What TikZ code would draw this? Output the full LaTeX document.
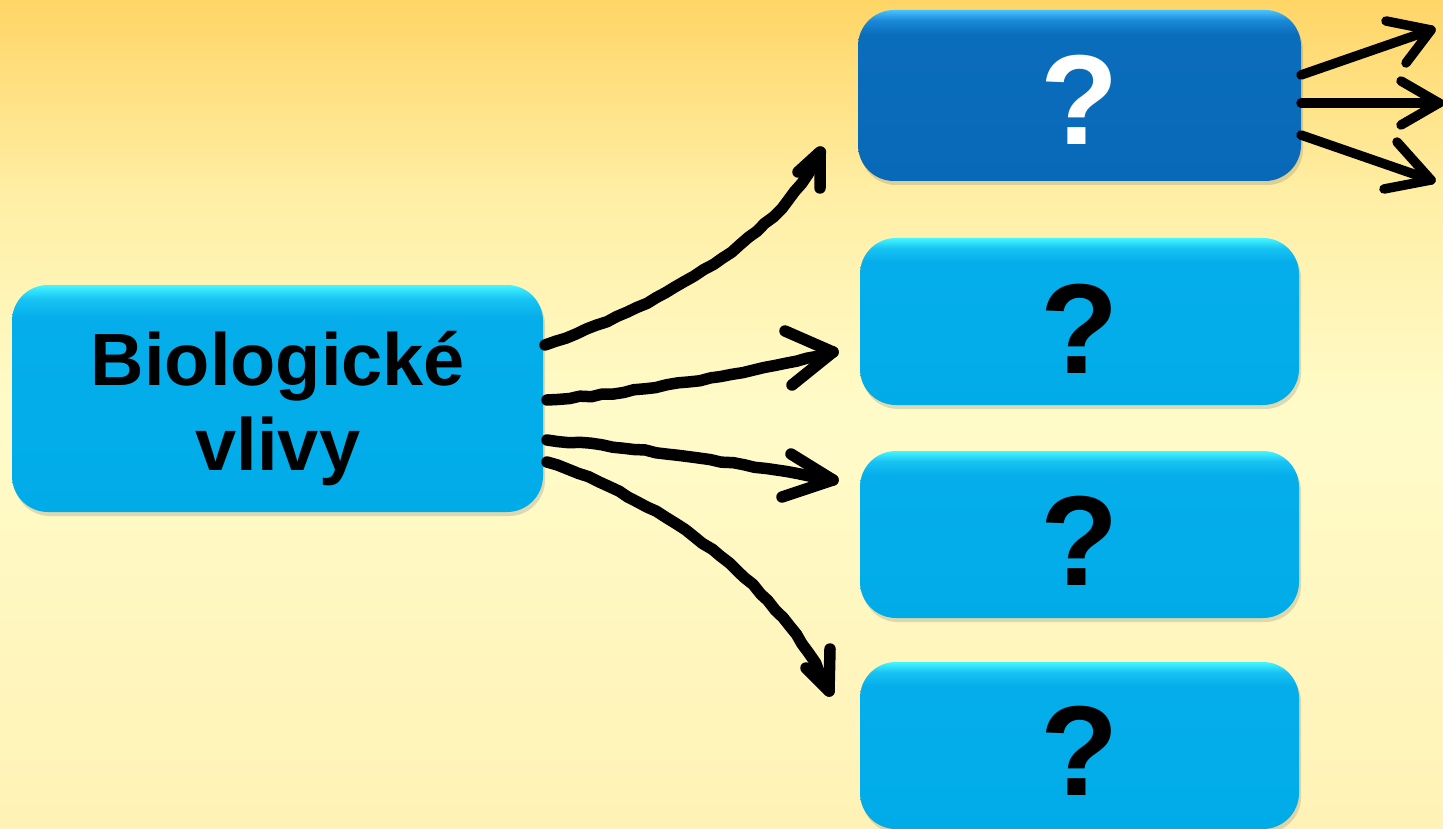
\documentclass[tikz,border=0pt]{standalone}
\usepackage{fontspec}
\setmainfont{Liberation Sans}
\usetikzlibrary{shadows,decorations.pathmorphing}
\definecolor{bgtop}{HTML}{FFD566}
\definecolor{bgup}{HTML}{FFEFA6}
\definecolor{bgmid}{HTML}{FFFBC9}
\definecolor{bgbot}{HTML}{FFF2B6}
\definecolor{lbmain}{HTML}{05AEEA}
\definecolor{lbbot}{HTML}{00ACE8}
\definecolor{lbhi}{HTML}{18C4F4}
\definecolor{lbtop}{HTML}{45F6FF}
\definecolor{dbmain}{HTML}{0A6DBC}
\definecolor{dbbot}{HTML}{0869B8}
\definecolor{dbhi}{HTML}{1A8AD8}
\definecolor{dbtop}{HTML}{48C2FF}
\pgfdeclareverticalshading{bgshade}{100bp}{color(0bp)=(bgbot); color(25bp)=(bgbot); color(50bp)=(bgmid); color(63bp)=(bgup); color(75bp)=(bgtop); color(100bp)=(bgtop)}
\pgfdeclareverticalshading{lightshade}{100bp}{color(0bp)=(lbbot); color(25bp)=(lbbot); color(68bp)=(lbmain); color(72bp)=(lbhi); color(75bp)=(lbtop); color(100bp)=(lbtop)}
\pgfdeclareverticalshading{darkshade}{100bp}{color(0bp)=(dbbot); color(25bp)=(dbbot); color(68bp)=(dbmain); color(72bp)=(dbhi); color(75bp)=(dbtop); color(100bp)=(dbtop)}
\tikzset{
  boxbase/.style={rectangle, rounded corners=36pt, draw=none, inner sep=0pt,
    drop shadow={shadow xshift=2pt, shadow yshift=-4pt, opacity=0.22, fill=black!60}},
  lbox/.style={boxbase, shading=lightshade},
  dbox/.style={boxbase, shading=darkshade},
  bigtxt/.style={inner sep=0pt, anchor=base, font=\fontsize{74}{86}\selectfont\bfseries},
  qtxt/.style={inner sep=0pt, anchor=base, font=\fontsize{128}{140}\selectfont\bfseries},
  wavy/.style={line width=11.5pt, line cap=round, line join=round,
    decorate, decoration={random steps, segment length=11pt, amplitude=0.9pt}},
  barb/.style={line width=11.5pt, line cap=round, line join=round},
  rarr/.style={line width=9.5pt, line cap=round, line join=round}
}
\begin{document}
\begin{tikzpicture}[x=1pt, y=-1pt]
\pgfmathsetseed{7}
\useasboundingbox (0,0) rectangle (1443,829);
\shade[shading=bgshade] (0,0) rectangle (1443,829);

% boxes
\node[lbox, minimum width=531pt, minimum height=227pt] (bio) at (277.5,398.5) {};
\node[dbox, minimum width=443pt, minimum height=171pt] (q1) at (1079.5,95.5) {};
\node[lbox, minimum width=439pt, minimum height=167pt] (q2) at (1079.5,321.5) {};
\node[lbox, minimum width=439pt, minimum height=167pt] (q3) at (1079.5,534.5) {};
\node[lbox, minimum width=439pt, minimum height=167pt] (q4) at (1079.5,745.5) {};

% texts
\node[bigtxt] (biot1) at (278,385) {Biologické};
\node[bigtxt] (biot2) at (278,470) {vlivy};

\node[qtxt, text=white] (q1t) at (1080,145) {?};
\node[qtxt] (q2t) at (1080,373) {?};
\node[qtxt] (q3t) at (1080,585) {?};
\node[qtxt] (q4t) at (1080,795) {?};

% connector coordinates
\coordinate (s1) at (545,345);
\coordinate (s2) at (547,400);
\coordinate (s3) at (547,440);
\coordinate (s4) at (547,462);
\coordinate (t1) at (820,152);
\coordinate (t2) at (833,352);
\coordinate (t3) at (833,480);
\coordinate (t4) at (829,691);

\draw[wavy] (s1) .. controls (650,310) and (780,240) .. (t1);
\draw[wavy] (s2) .. controls (650,392) and (760,370) .. (t2);
\draw[wavy] (s3) .. controls (650,448) and (760,468) .. (t3);
\draw[wavy] (s4) .. controls (650,495) and (780,580) .. (t4);

\draw[barb] (798,172) -- (t1) -- (820,188);
\draw[barb] (785,331) -- (t2) -- (792,385);
\draw[barb] (791,454) -- (t3) -- (782,497);
\draw[barb] (806,668) -- (t4) -- (830,649);

% right arrows
\coordinate (r1s) at (1301,75);
\coordinate (r2s) at (1301,103);
\coordinate (r3s) at (1301,135);
\coordinate (r1) at (1431,30);
\coordinate (r2) at (1439,103);
\coordinate (r3) at (1431,180);
\draw[rarr] (r1s) -- (r1);
\draw[rarr] (r2s) -- (r2);
\draw[rarr] (r3s) -- (r3);
\draw[rarr] (1386,21) -- (r1) -- (1406,63);
\draw[rarr] (1401,81) -- (r2) -- (1401,125);
\draw[rarr] (1397,142) -- (r3) -- (1384,189);
\end{tikzpicture}
\end{document}
